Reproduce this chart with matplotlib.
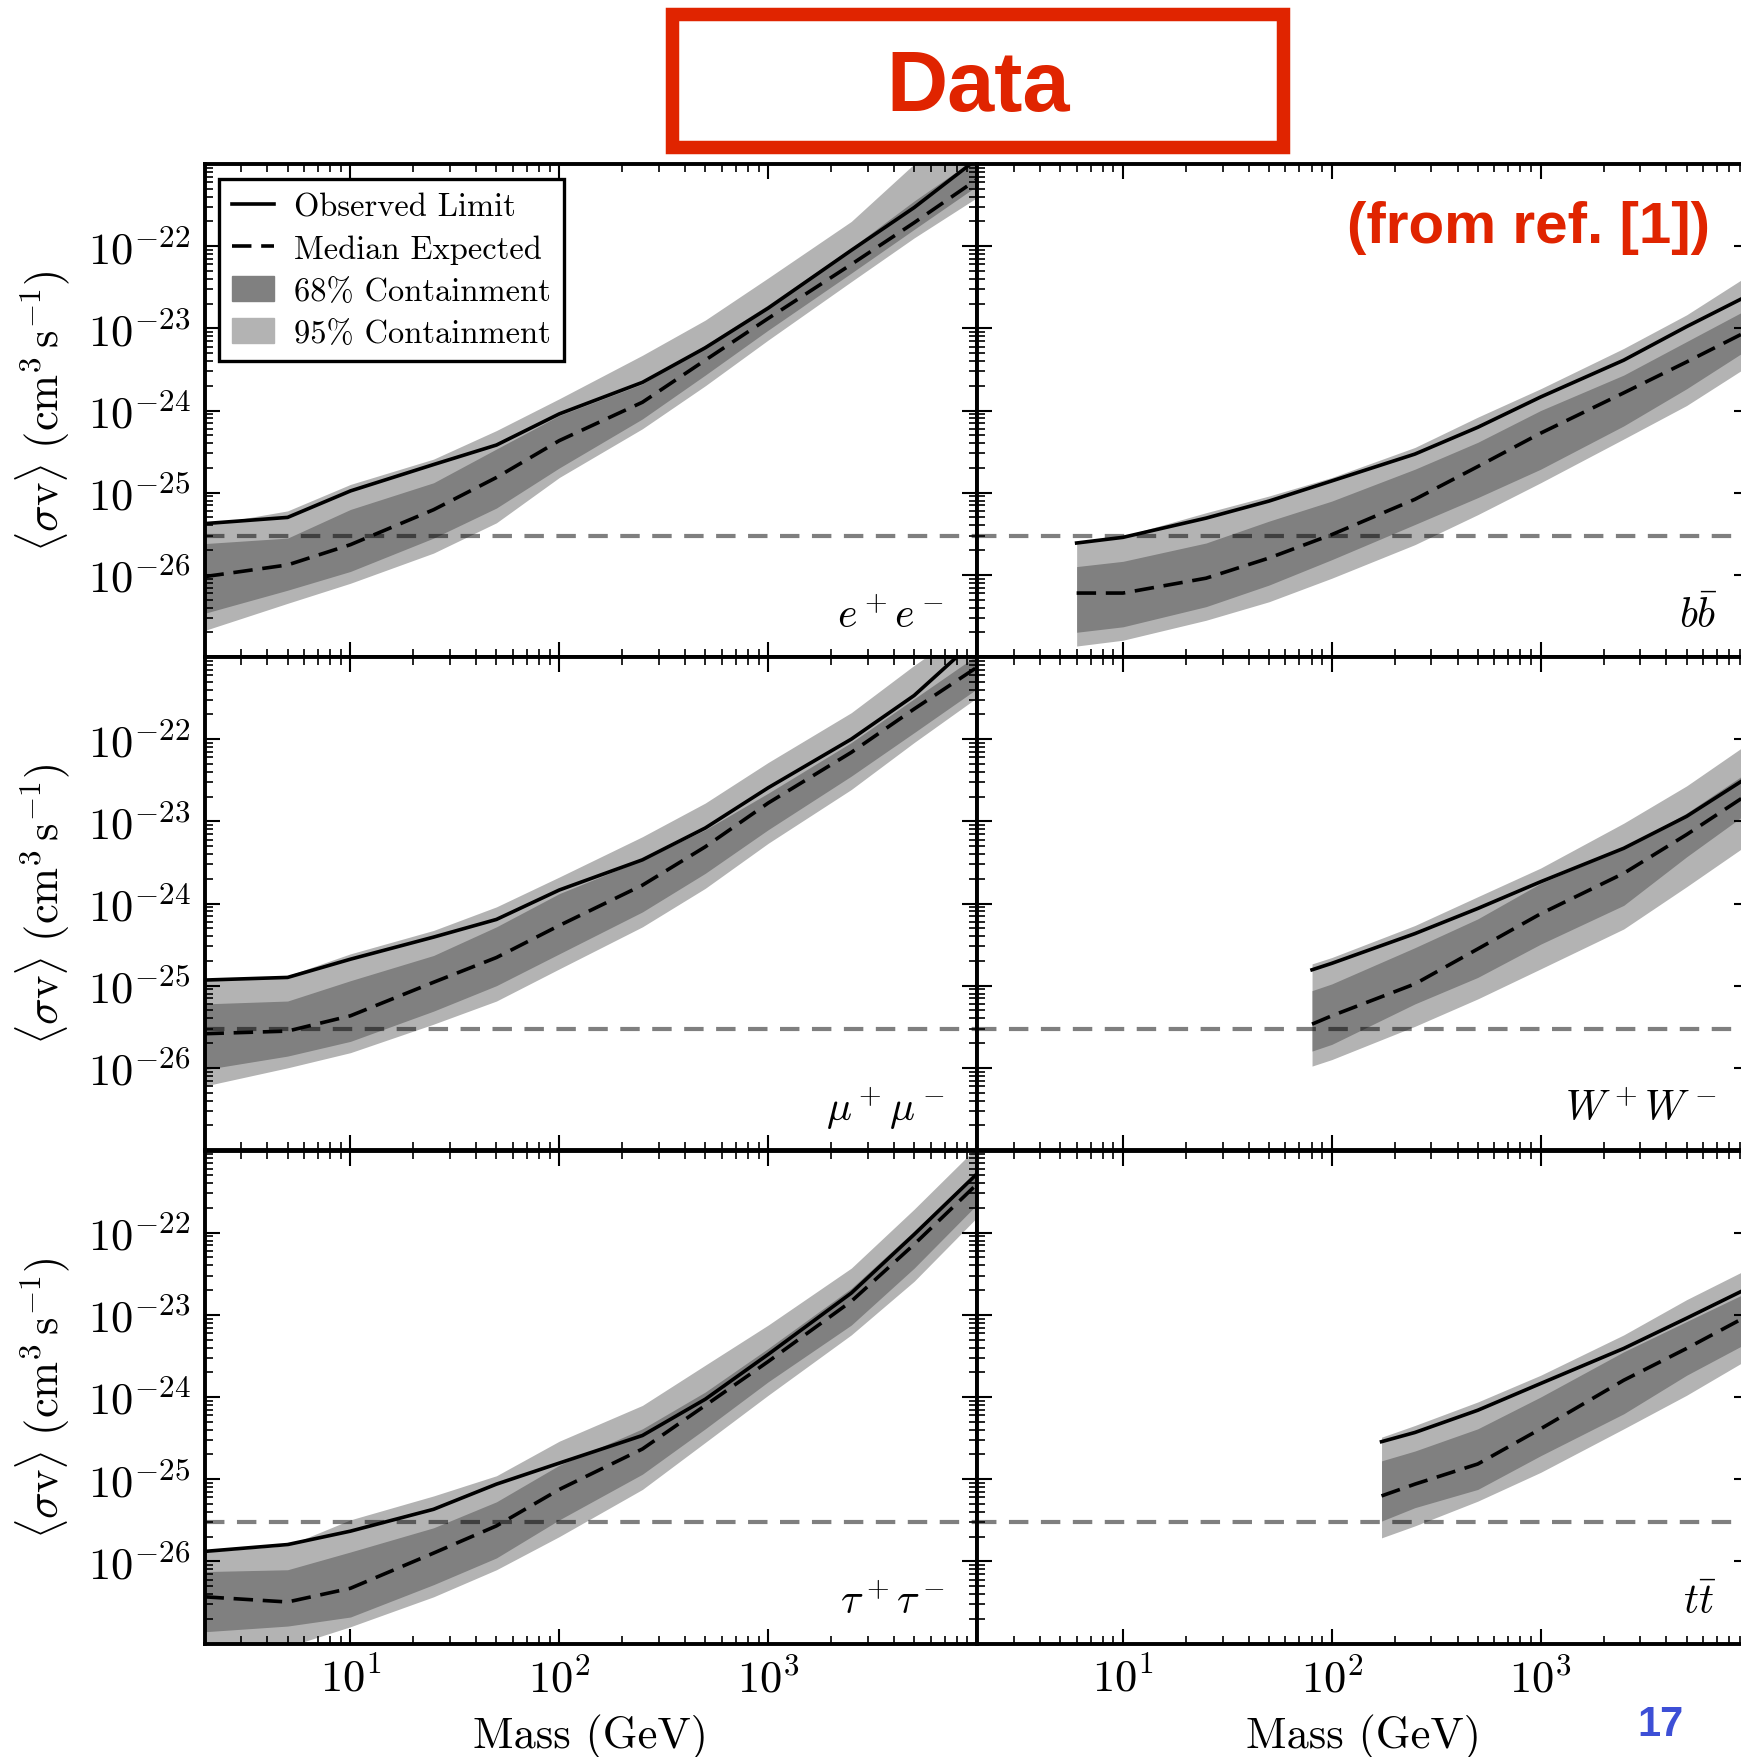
import numpy as np
import matplotlib
matplotlib.use("Agg")
import matplotlib.pyplot as plt
from matplotlib.ticker import LogLocator, NullFormatter, FixedLocator, FuncFormatter
from matplotlib.lines import Line2D
from matplotlib.patches import Patch, Rectangle

plt.rcParams['font.family'] = ['cmr10', 'DejaVu Serif']
plt.rcParams['mathtext.fontset'] = 'cm'
plt.rcParams['axes.unicode_minus'] = False
plt.rcParams['axes.formatter.use_mathtext'] = True
plt.rcParams['lines.scale_dashes'] = False

# ---------------- masses (GeV) ----------------
MASS_LEP = [2, 5, 10, 25, 50, 100, 250, 500, 1000, 2500, 5000, 10000]
MASS_BB = [6, 10, 25, 50, 100, 250, 500, 1000, 2500, 5000, 10000]
MASS_WW = [80.4, 100, 250, 500, 1000, 2500, 5000, 10000]
MASS_TT = [173, 250, 500, 1000, 2500, 5000, 10000]

# ---------------- <sigma v> limits (cm^3 s^-1) ----------------
EE_OBS = [4.2e-26, 5.0e-26, 1.05e-25, 2.2e-25, 3.8e-25, 9.1e-25, 2.2e-24, 5.8e-24, 1.76e-23, 8.9e-23, 2.95e-22, 1.15e-21]
EE_MED = [9.5e-27, 1.32e-26, 2.33e-26, 6.2e-26, 1.53e-25, 4.3e-25, 1.26e-24, 4.1e-24, 1.32e-23, 6.0e-23, 1.93e-22, 6.5e-22]
EE_HI68 = [2.4e-26, 2.8e-26, 6.25e-26, 1.32e-25, 3.4e-25, 8.7e-25, 2.1e-24, 6.25e-24, 1.93e-23, 9.5e-23, 3.55e-22, 1.2e-21]
EE_LO68 = [3.4e-27, 6.5e-27, 1.1e-26, 2.8e-26, 6.5e-26, 2.0e-25, 7.9e-25, 2.7e-24, 9.5e-24, 4.7e-23, 1.6e-22, 5.4e-22]
EE_HI95 = [4.0e-26, 6.0e-26, 1.26e-25, 2.56e-25, 5.7e-25, 1.39e-24, 4.7e-24, 1.26e-23, 4.1e-23, 2.0e-22, 1.0e-21, 3.4e-21]
EE_LO95 = [2.1e-27, 4.5e-27, 7.9e-27, 1.84e-26, 4.3e-26, 1.53e-25, 6.0e-25, 2.0e-24, 7.2e-24, 3.7e-23, 1.26e-22, 3.9e-22]

BB_OBS = [2.44e-26, 2.86e-26, 4.9e-26, 7.9e-26, 1.39e-25, 2.95e-25, 6.25e-25, 1.46e-24, 4.1e-24, 1.05e-23, 2.56e-23]
BB_MED = [6.0e-27, 6.0e-27, 9.1e-27, 1.6e-26, 3.09e-26, 8.3e-26, 2.08e-25, 5.3e-25, 1.64e-24, 3.9e-24, 9.5e-24]
BB_HI68 = [1.26e-26, 1.46e-26, 2.44e-26, 4.5e-26, 7.9e-26, 1.93e-25, 4.1e-25, 1.0e-24, 2.7e-24, 6.9e-24, 1.76e-23]
BB_LO68 = [2.0e-27, 2.33e-27, 4.1e-27, 7.5e-27, 1.53e-26, 4.1e-26, 8.7e-26, 1.93e-25, 6.5e-25, 1.84e-24, 5.7e-24]
BB_HI95 = [2.56e-26, 2.95e-26, 5.7e-26, 9.1e-26, 1.53e-25, 3.55e-25, 8.3e-25, 1.84e-24, 5.7e-24, 1.46e-23, 4.5e-23]
BB_LO95 = [1.36e-27, 1.6e-27, 2.8e-27, 4.7e-27, 9.1e-27, 2.33e-26, 5.4e-26, 1.32e-25, 4.5e-25, 1.15e-24, 3.55e-24]

MUMU_OBS = [1.17e-25, 1.26e-25, 2.1e-25, 3.9e-25, 6.4e-25, 1.46e-24, 3.4e-24, 8.3e-24, 2.56e-23, 1.0e-22, 3.4e-22, 1.67e-21]
MUMU_MED = [2.6e-26, 2.8e-26, 4.3e-26, 1.1e-25, 2.2e-25, 5.4e-25, 1.67e-24, 4.9e-24, 1.67e-23, 6.9e-23, 2.33e-22, 7.5e-22]
MUMU_HI68 = [6.0e-26, 6.5e-26, 1.15e-25, 2.33e-25, 5.2e-25, 1.32e-24, 3.4e-24, 7.9e-24, 2.2e-23, 9.1e-23, 3.1e-22, 1.05e-21]
MUMU_LO68 = [9.5e-27, 1.39e-26, 2.1e-26, 4.9e-26, 1.0e-25, 2.44e-25, 7.9e-25, 2.33e-24, 7.9e-24, 3.55e-23, 1.2e-22, 4.1e-22]
MUMU_HI95 = [1.2e-25, 1.32e-25, 2.44e-25, 4.7e-25, 9.1e-25, 2.1e-24, 6.5e-24, 1.67e-23, 5.2e-23, 2.1e-22, 7.9e-22, 2.7e-21]
MUMU_LO95 = [6.0e-27, 1.0e-26, 1.53e-26, 3.4e-26, 6.5e-26, 1.6e-25, 5.2e-25, 1.53e-24, 5.4e-24, 2.44e-23, 9.1e-23, 3.2e-22]

WW_OBS = [1.56e-25, 1.87e-25, 4.3e-25, 8.7e-25, 1.84e-24, 4.7e-24, 1.15e-23, 3.55e-23]
WW_MED = [3.4e-26, 4.3e-26, 1.05e-25, 2.8e-25, 7.5e-25, 2.33e-24, 6.9e-24, 2.2e-23]
WW_HI68 = [8.7e-26, 1.05e-25, 2.9e-25, 6.5e-25, 1.76e-24, 4.7e-24, 1.26e-23, 4.1e-23]
WW_LO68 = [1.6e-26, 1.93e-26, 6.0e-26, 1.26e-25, 3.2e-25, 9.5e-25, 3.7e-24, 1.32e-23]
WW_HI95 = [1.84e-25, 2.2e-25, 5.4e-25, 1.21e-24, 2.7e-24, 9.5e-24, 2.7e-23, 9.1e-23]
WW_LO95 = [1.05e-26, 1.26e-26, 3.2e-26, 6.9e-26, 1.6e-25, 4.9e-25, 1.6e-24, 5.4e-24]

TAU_OBS = [1.32e-26, 1.6e-26, 2.33e-26, 4.3e-26, 8.7e-26, 1.57e-25, 3.4e-25, 9.4e-25, 3.3e-24, 1.84e-23, 9.5e-23, 5.2e-22]
TAU_MED = [3.7e-27, 3.2e-27, 4.7e-27, 1.26e-26, 2.7e-26, 7.5e-26, 2.33e-25, 7.9e-25, 2.7e-24, 1.46e-23, 7.2e-23, 3.9e-22]
TAU_HI68 = [7.5e-27, 7.9e-27, 1.3e-26, 2.56e-26, 5.3e-26, 1.48e-25, 4.1e-25, 1.15e-24, 3.9e-24, 2.1e-23, 1.05e-22, 5.7e-22]
TAU_LO68 = [1.39e-27, 1.63e-27, 2.1e-27, 5.2e-27, 1.1e-26, 3.2e-26, 1.15e-25, 4.1e-25, 1.53e-24, 7.5e-24, 3.7e-23, 2.2e-22]
TAU_HI95 = [1.3e-26, 1.55e-26, 3.2e-26, 6.25e-26, 1.1e-25, 2.9e-25, 7.9e-25, 2.44e-24, 7.5e-24, 3.7e-23, 1.93e-22, 1.1e-21]
TAU_LO95 = [1.05e-27, 9.1e-28, 1.6e-27, 3.7e-27, 7.9e-27, 2.0e-26, 7.5e-26, 2.8e-25, 1.05e-24, 5.7e-24, 2.56e-23, 1.53e-22]

TT_OBS = [2.86e-25, 3.7e-25, 6.9e-25, 1.46e-24, 3.9e-24, 9.1e-24, 2.16e-23]
TT_MED = [6.25e-26, 8.7e-26, 1.53e-25, 4.1e-25, 1.6e-24, 3.9e-24, 1.0e-23]
TT_HI68 = [1.67e-25, 2.2e-25, 4.1e-25, 1.0e-24, 3.55e-24, 8.3e-24, 1.93e-23]
TT_LO68 = [3.09e-26, 4.5e-26, 7.5e-26, 1.93e-25, 6.25e-25, 1.84e-24, 4.7e-24]
TT_HI95 = [3.24e-25, 4.5e-25, 8.7e-25, 1.84e-24, 5.7e-24, 1.53e-23, 3.7e-23]
TT_LO95 = [1.93e-26, 2.7e-26, 5.4e-26, 1.21e-25, 4.1e-25, 1.05e-24, 2.95e-24]

THERMAL = 3e-26
Y_TICKS = [1e-26, 1e-25, 1e-24, 1e-23, 1e-22]
X_TICKS = [10, 100, 1000]

# (row, col, label, mass, obs, med, lo68, hi68, lo95, hi95)
panels = [
    (0, 0, r'$e^+e^-$', MASS_LEP, EE_OBS, EE_MED, EE_LO68, EE_HI68, EE_LO95, EE_HI95),
    (0, 1, r'$b\bar{b}$', MASS_BB, BB_OBS, BB_MED, BB_LO68, BB_HI68, BB_LO95, BB_HI95),
    (1, 0, r'$\mu^+\mu^-$', MASS_LEP, MUMU_OBS, MUMU_MED, MUMU_LO68, MUMU_HI68, MUMU_LO95, MUMU_HI95),
    (1, 1, r'$W^+W^-$', MASS_WW, WW_OBS, WW_MED, WW_LO68, WW_HI68, WW_LO95, WW_HI95),
    (2, 0, r'$\tau^+\tau^-$', MASS_LEP, TAU_OBS, TAU_MED, TAU_LO68, TAU_HI68, TAU_LO95, TAU_HI95),
    (2, 1, r'$t\bar{t}$', MASS_TT, TT_OBS, TT_MED, TT_LO68, TT_HI68, TT_LO95, TT_HI95),
]

C68 = '#808080'
C95 = '#b3b3b3'
RED = '#e02400'
LW = 2.6

W, H = 1741, 1758
fig = plt.figure(figsize=(W / 100, H / 100), dpi=100)

col_x = [204.5, 977.0]
row_y = [165.0, 658.0, 1151.5]
ax_w, ax_h = 772.5, 493.0

for row, col, lab, m, obs, med, lo68, hi68, lo95, hi95 in panels:
    ax = fig.add_axes([col_x[col] / W, 1 - (row_y[row] + ax_h) / H, ax_w / W, ax_h / H])
    ax.fill_between(m, lo95, hi95, color=C95, lw=0, zorder=1)
    ax.fill_between(m, lo68, hi68, color=C68, lw=0, zorder=1.1)
    ax.axhline(THERMAL, color='k', alpha=0.5, lw=3, dashes=(14, 9), zorder=2)
    ax.plot(m, obs, color='k', lw=LW, zorder=3)
    ax.plot(m, med, color='k', lw=LW, dashes=(14, 7), zorder=3)

    ax.set_xscale('log')
    ax.set_yscale('log')
    ax.set_xlim(2, 1e4)
    ax.set_ylim(1e-27, 1e-21)

    ax.xaxis.set_major_locator(FixedLocator(X_TICKS))
    ax.yaxis.set_major_locator(FixedLocator(Y_TICKS))
    for axis in (ax.xaxis, ax.yaxis):
        axis.set_minor_locator(LogLocator(base=10, subs=np.arange(2, 10), numticks=60))
        axis.set_minor_formatter(NullFormatter())
        axis.set_major_formatter(FuncFormatter(lambda v, p: r'$10^{%d}$' % round(np.log10(v))))

    ax.tick_params(which='both', direction='in', top=True, right=True, labelsize=32)
    ax.tick_params(which='major', length=10.5, width=1.5, pad=10)
    ax.tick_params(which='minor', length=5.5, width=1.2)
    ax.tick_params(labelbottom=(row == 2), labelleft=(col == 0))
    for s in ax.spines.values():
        s.set_linewidth(2.8)

    ax.text(0.958, 0.061, lab, transform=ax.transAxes, ha='right', va='baseline', fontsize=30)

    if row == 0 and col == 0:
        handles = [Line2D([], [], color='k', lw=LW),
                   Line2D([], [], color='k', lw=LW, dashes=(14, 7)),
                   Patch(color=C68), Patch(color=C95)]
        labels = ['Observed Limit', 'Median Expected', '68% Containment', '95% Containment']
        leg = ax.legend(handles, labels, loc='upper left', fontsize=23.4, fancybox=False,
                        edgecolor='k', framealpha=1, borderaxespad=0.46, handlelength=1.28,
                        handleheight=0.8, handletextpad=0.62, labelspacing=0.38,
                        borderpad=0.4)
        leg.get_frame().set_linewidth(2.4)

# axis labels
ylab = r'$\langle\sigma \mathrm{v}\rangle\ (\mathrm{cm}^3\,\mathrm{s}^{-1})$'
for r in range(3):
    fig.text(43 / W, 1 - (row_y[r] + ax_h / 2) / H, ylab, rotation=90,
             ha='center', va='center', fontsize=32)
for c in range(2):
    fig.text((col_x[c] + ax_w / 2) / W, 1 - 1748 / H, 'Mass (GeV)',
             ha='center', va='baseline', fontsize=32)

# slide annotations
fig.add_artist(Rectangle((672 / W, 1 - 148 / H), 611 / W, 133 / H, transform=fig.transFigure,
                         fill=False, edgecolor=RED, lw=9.7))
fig.text(978 / W, 1 - 111 / H, 'Data', color=RED, fontsize=61, fontweight='bold',
         family='Liberation Sans', ha='center', va='baseline')
fig.text(1710 / W, 1 - 243 / H, '(from ref. [1])', color=RED, fontsize=42, fontweight='bold',
         family='Liberation Sans', ha='right', va='baseline')
fig.text(1661 / W, 1 - 1725 / H, '17', color='#3d4fd6', fontsize=30, fontweight='bold',
         family='Liberation Sans', ha='center', va='center')

fig.savefig('out.png', dpi=100)
